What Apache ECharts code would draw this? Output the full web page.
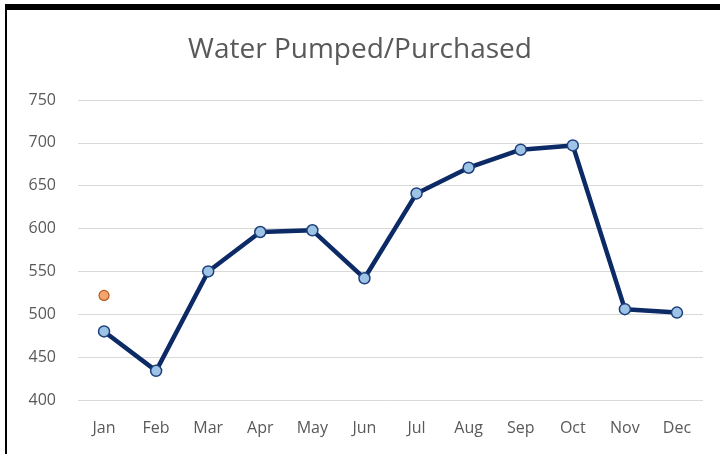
<!DOCTYPE html>
<html>
<head>
<meta charset="utf-8">
<script src="https://cdn.jsdelivr.net/npm/echarts@6/dist/echarts.min.js"></script>
<style>
    html, body { margin: 0; padding: 0; background: #fff; }
    #frame {
        position: absolute;
        left: 5px;
        top: 4px;
        width: 715px;
        height: 450px;
        border-top: 6px solid #000;
        border-left: 2px solid #000;
        box-sizing: border-box;
    }
    #chart { position: absolute; left: 0; top: 0; width: 720px; height: 454px; }
</style>
</head>
<body>
<div id="frame"></div>
<div id="chart"></div>
<script>
    const months = ['Jan', 'Feb', 'Mar', 'Apr', 'May', 'Jun', 'Jul', 'Aug', 'Sep', 'Oct', 'Nov', 'Dec']
    const pumped = [480, 434, 550, 596, 598, 542, 641, 671, 692, 697, 506, 502]
    const purchased = [522, null, null, null, null, null, null, null, null, null, null, null]

    let chart = echarts.init(document.getElementById('chart'))
    let option = {
        animation: false,
        title: {
            text: 'Water Pumped/Purchased',
            left: 'center',
            top: 31,
            textStyle: {
                color: '#595959',
                fontSize: 28,
                fontWeight: 'normal',
                fontFamily: 'Open Sans'
            }
        },
        grid: {
            left: 78,
            right: 17,
            top: 100,
            bottom: 54
        },
        xAxis: {
            type: 'category',
            data: months,
            axisLine: { show: false },
            axisTick: { show: false },
            axisLabel: {
                color: '#595959',
                fontSize: 16,
                fontFamily: 'Open Sans',
                margin: 20
            }
        },
        yAxis: {
            type: 'value',
            min: 400,
            max: 750,
            interval: 50,
            axisLine: { show: false },
            axisTick: { show: false },
            axisLabel: {
                color: '#595959',
                fontSize: 16,
                fontFamily: 'Open Sans',
                margin: 22
            },
            splitLine: {
                lineStyle: { color: '#d9d9d9', width: 1 }
            }
        },
        series: [
            {
                name: 'Pumped',
                type: 'line',
                data: pumped,
                symbol: 'circle',
                symbolSize: 11,
                lineStyle: { color: '#0c2a66', width: 4.5 },
                itemStyle: { color: '#9dc3e6', borderColor: '#1f3f7a', borderWidth: 1.5 }
            },
            {
                name: 'Purchased',
                type: 'line',
                data: purchased,
                symbol: 'circle',
                symbolSize: 10,
                showAllSymbol: true,
                lineStyle: { width: 0 },
                itemStyle: { color: '#f4a46e', borderColor: '#b85a1c', borderWidth: 1.2 }
            }
        ]
    }
    chart.setOption(option)
</script>
</body>
</html>
